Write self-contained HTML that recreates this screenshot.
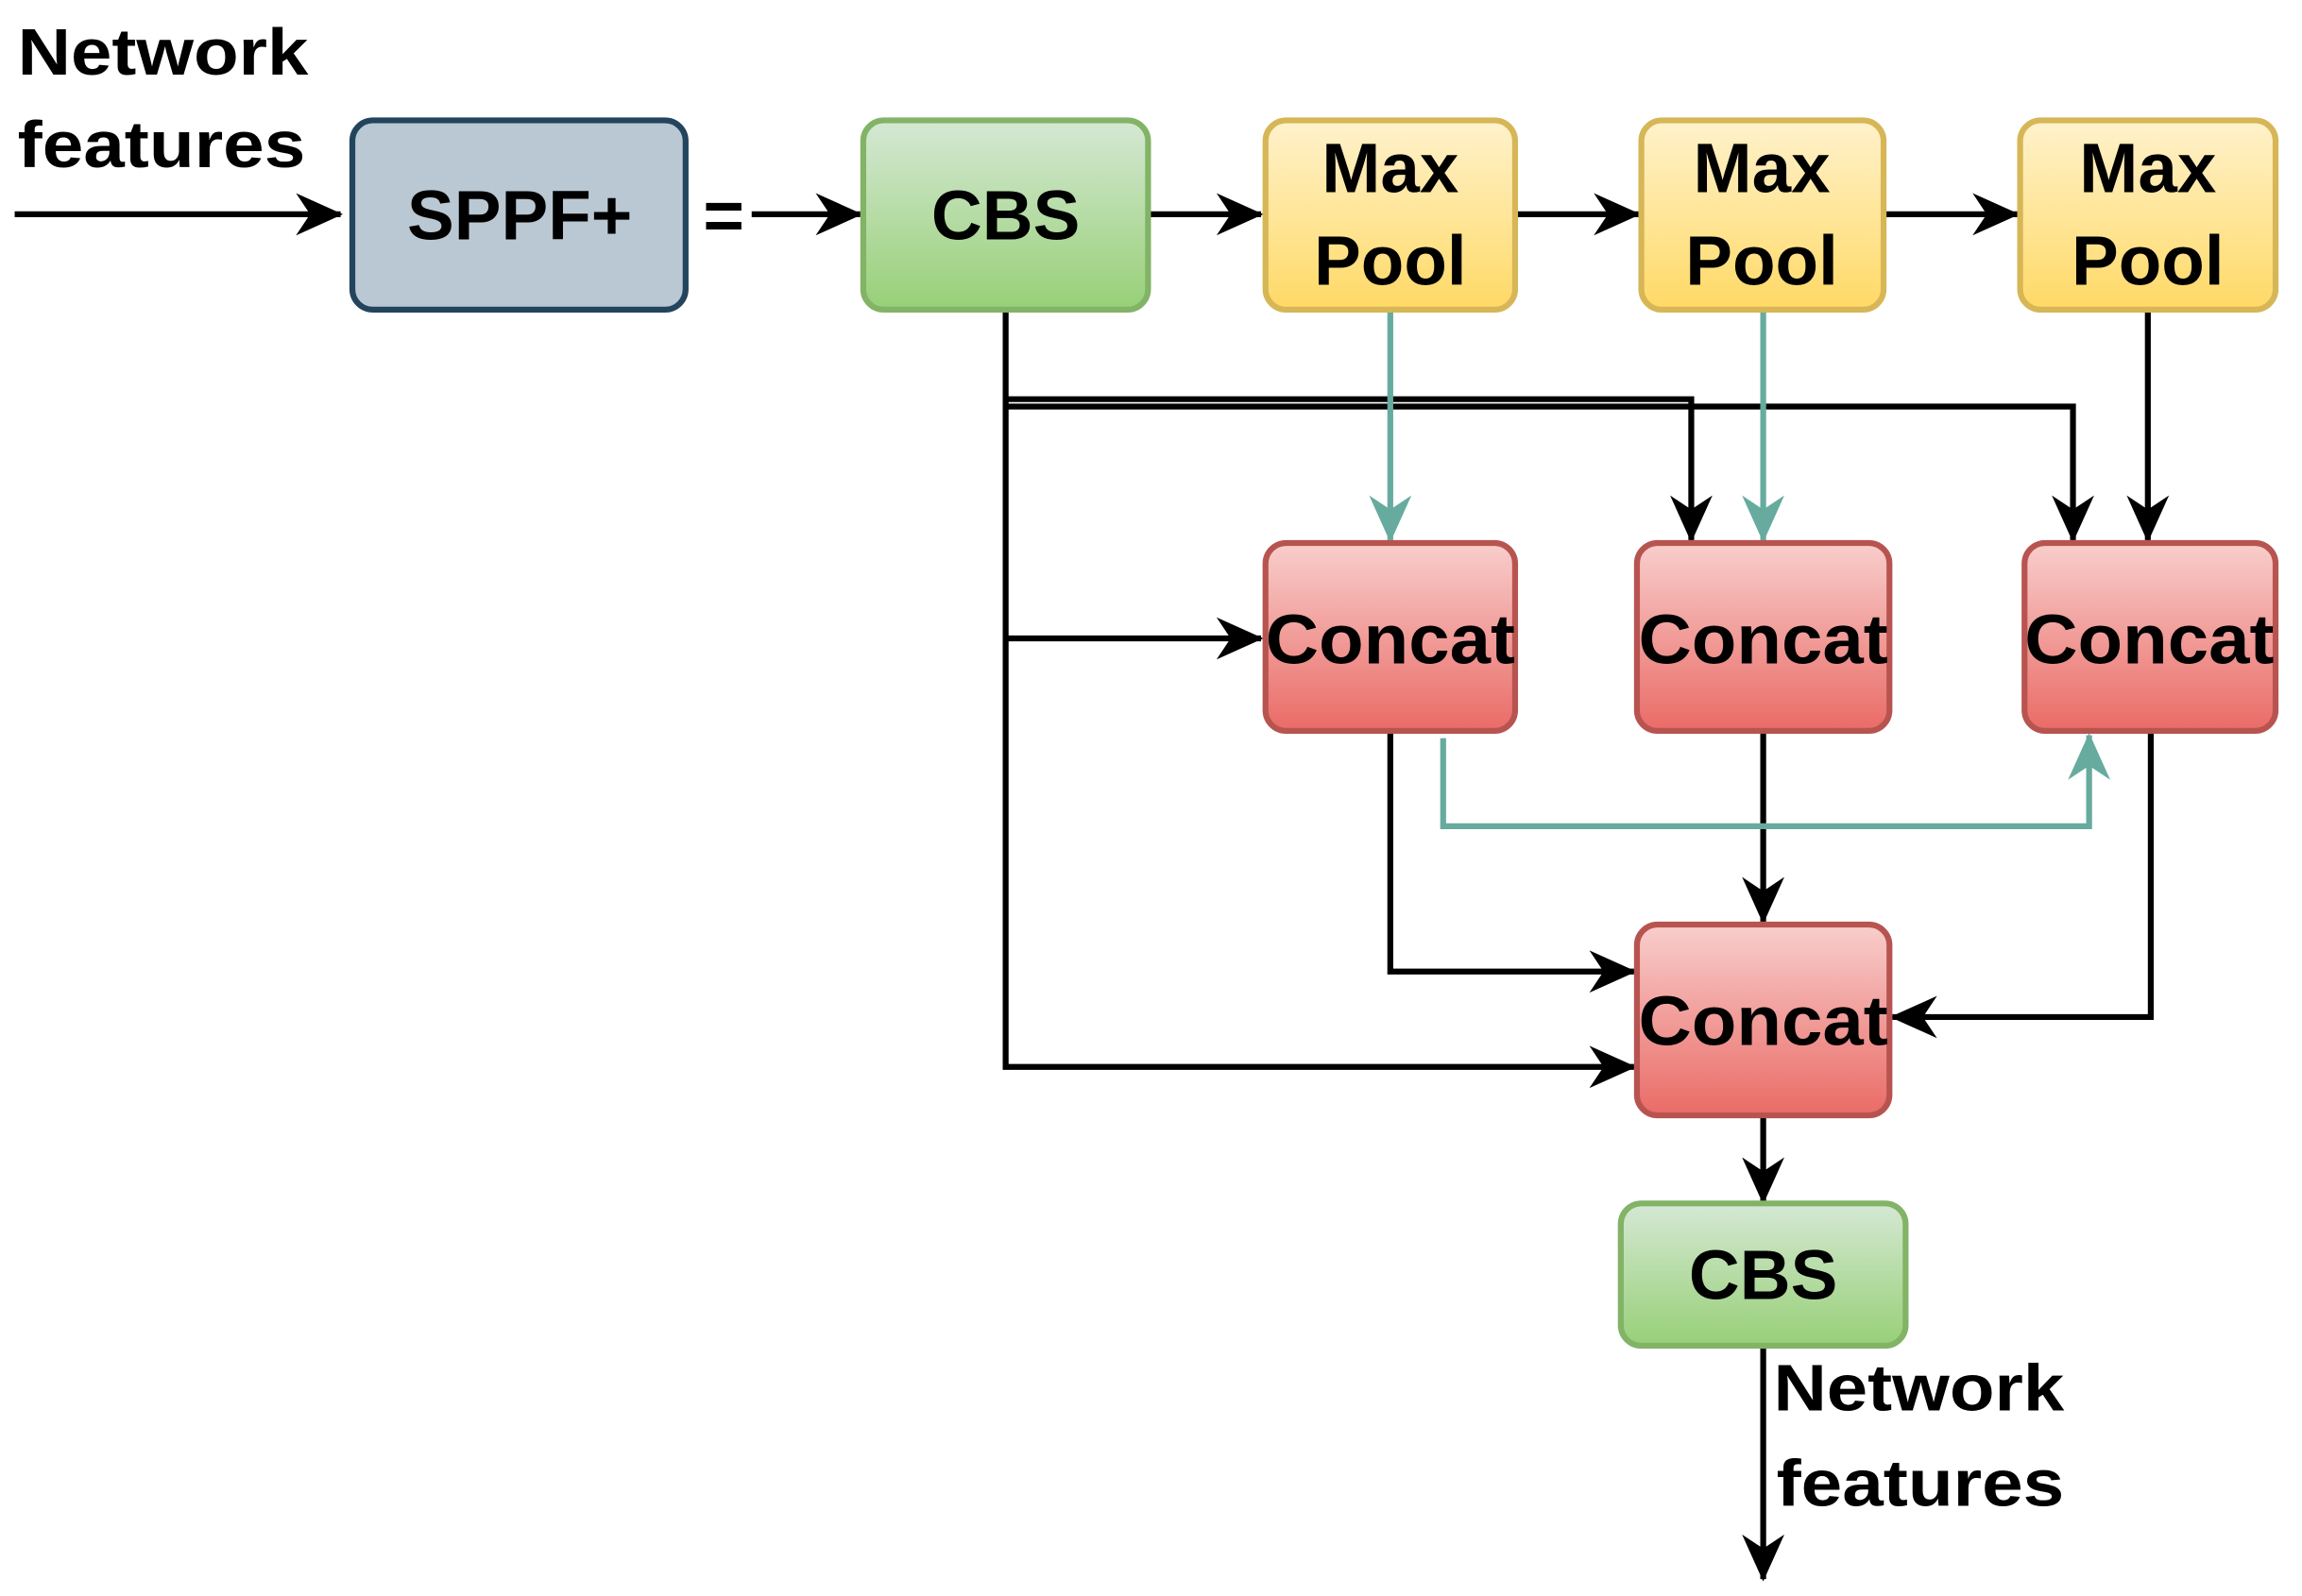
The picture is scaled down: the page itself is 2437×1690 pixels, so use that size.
<!DOCTYPE html>
<html><head><meta charset="utf-8"><style>html,body{margin:0;padding:0;background:#fff}svg{display:block}</style></head>
<body>
<svg width="2437" height="1690" viewBox="0 0 1568 1087.5" preserveAspectRatio="none" xmlns="http://www.w3.org/2000/svg" font-family="Liberation Sans, Arial, sans-serif">
<defs>
<linearGradient id="g" x1="0" y1="0" x2="0" y2="1"><stop offset="0" stop-color="#d5e8d4"/><stop offset="1" stop-color="#97d077"/></linearGradient>
<linearGradient id="y" x1="0" y1="0" x2="0" y2="1"><stop offset="0" stop-color="#fff2cc"/><stop offset="1" stop-color="#ffd966"/></linearGradient>
<linearGradient id="r" x1="0" y1="0" x2="0" y2="1"><stop offset="0" stop-color="#f8cecc"/><stop offset="1" stop-color="#ea6b66"/></linearGradient>
<marker id="a" viewBox="0 0 20 20" refX="19" refY="10" markerWidth="32" markerHeight="32" markerUnits="userSpaceOnUse" orient="auto"><path d="M0,1 L20,10 L0,19 L6,10 Z" fill="#000"/></marker>
<marker id="at" viewBox="0 0 20 20" refX="19" refY="10" markerWidth="32" markerHeight="32" markerUnits="userSpaceOnUse" orient="auto"><path d="M0,1 L20,10 L0,19 L6,10 Z" fill="#67ab9f"/></marker>
</defs>
<g fill="none" stroke="#000" stroke-width="4" marker-end="url(#a)">
<path d="M10,146H232"/>
<path d="M512,146H586"/>
<path d="M782,146H859"/>
<path d="M1032,146H1116"/>
<path d="M1283,146H1374"/>
<path d="M685,211V727H1113"/>
<path d="M685,272H1152V368"/>
<path d="M685,277H1412V368"/>
<path d="M685,435H859"/>
<path d="M1463,211V368"/>
<path d="M947,498V662H1113"/>
<path d="M1201,498V628"/>
<path d="M1465,498V693H1289"/>
<path d="M1201,760V819"/>
<path d="M1201,917V1076"/>
</g>
<g fill="none" stroke="#67ab9f" stroke-width="4" marker-end="url(#at)">
<path d="M947,211V368"/>
<path d="M1201,211V368"/>
<path d="M983,503V563H1423V501"/>
</g>
<g stroke-width="4">
<rect x="240" y="82" width="227" height="129" rx="14" fill="#bac8d3" stroke="#23445d"/>
<rect x="588" y="82" width="194" height="129" rx="14" fill="url(#g)" stroke="#82b366"/>
<rect x="862" y="82" width="170" height="129" rx="14" fill="url(#y)" stroke="#d6b656"/>
<rect x="1118" y="82" width="165" height="129" rx="14" fill="url(#y)" stroke="#d6b656"/>
<rect x="1376" y="82" width="174" height="129" rx="14" fill="url(#y)" stroke="#d6b656"/>
<rect x="862" y="370" width="170" height="128" rx="14" fill="url(#r)" stroke="#b85450"/>
<rect x="1115" y="370" width="172" height="128" rx="14" fill="url(#r)" stroke="#b85450"/>
<rect x="1379" y="370" width="171" height="128" rx="14" fill="url(#r)" stroke="#b85450"/>
<rect x="1115" y="630" width="172" height="130" rx="14" fill="url(#r)" stroke="#b85450"/>
<rect x="1104" y="820" width="194" height="97" rx="14" fill="url(#g)" stroke="#82b366"/>
</g>
<g font-size="48" font-weight="bold" text-anchor="middle" fill="#000">
<text x="354" y="163">SPPF+</text>
<text x="685" y="163">CBS</text>
<text x="947" y="131">Max</text><text x="947" y="194">Pool</text>
<text x="1200" y="131">Max</text><text x="1200" y="194">Pool</text>
<text x="1463" y="131">Max</text><text x="1463" y="194">Pool</text>
<text x="947" y="452" textLength="170" lengthAdjust="spacingAndGlyphs">Concat</text>
<text x="1201" y="452" textLength="170" lengthAdjust="spacingAndGlyphs">Concat</text>
<text x="1464" y="452" textLength="170" lengthAdjust="spacingAndGlyphs">Concat</text>
<text x="1201" y="712" textLength="170" lengthAdjust="spacingAndGlyphs">Concat</text>
<text x="1201" y="885">CBS</text>
<text x="493" y="163">=</text>
</g>
<g font-size="45" font-weight="bold" fill="#000">
<text x="12" y="51" textLength="198" lengthAdjust="spacingAndGlyphs">Network</text><text x="12" y="114" textLength="196" lengthAdjust="spacingAndGlyphs">features</text>
<text x="1208" y="961" textLength="198" lengthAdjust="spacingAndGlyphs">Network</text><text x="1210" y="1026" textLength="196" lengthAdjust="spacingAndGlyphs">features</text>
</g>
</svg>
</body></html>
